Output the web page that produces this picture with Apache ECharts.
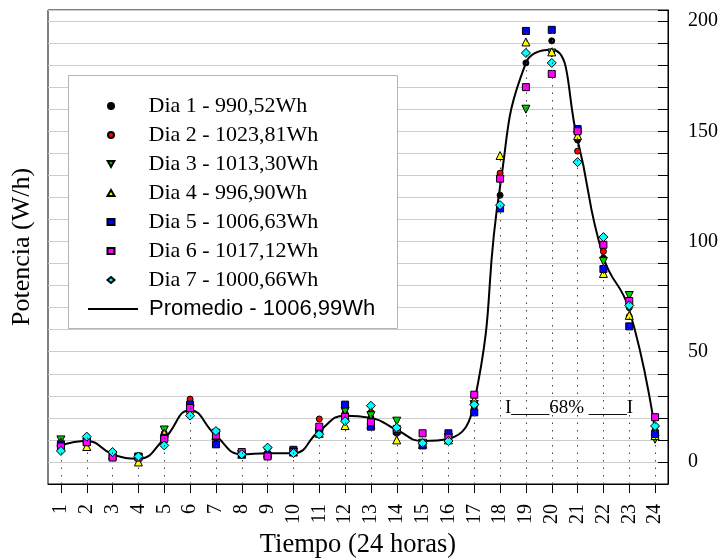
<!DOCTYPE html>
<html><head><meta charset="utf-8">
<script src="https://cdn.jsdelivr.net/npm/echarts@6/dist/echarts.min.js"></script>
<style>html,body{margin:0;padding:0;background:#fff}#c{width:724px;height:560px}</style>
</head><body><div id="c"></div>
<script>
const hours = ['1','2','3','4','5','6','7','8','9','10','11','12','13','14','15','16','17','18','19','20','21','22','23','24'];
const dia1 = [8, 9, 3, 1.5, 12, 25, 11, 4, 4, 5, 14, 22, 20, 14, 8, 11, 25, 121, 181, 191, 146, 92.5, 66, 13];
const dia2 = [8, 9, 3, 2, 13, 28.5, 12, 4, 4, 5, 19.5, 24, 22.5, 13, 8, 11, 27, 131, 170, 186, 141, 95.5, 70, 14.5];
const dia3 = [10, 9, 3, 2, 14.5, 24, 13, 3.5, 5, 4.5, 13, 23, 21, 18.5, 8.5, 11, 26, 128, 160, 185.5, 148, 91, 75.5, 10.3];
const dia4 = [9, 7, 3, 0, 13, 24, 12, 3.5, 4, 4.5, 13, 16.5, 17, 10, 8, 10, 28, 139, 190.5, 186, 148, 85.5, 66.5, 12];
const dia5 = [8, 9, 3, 2.5, 11, 26, 8, 3.5, 3, 5.5, 14, 26, 16, 14, 7.5, 13, 22.5, 115, 195.5, 196, 151, 87.5, 61.5, 12.7];
const dia6 = [7, 9, 2, 2, 10.5, 24.5, 12, 4.5, 2.5, 4.5, 16, 20.5, 18, 15, 13, 11, 30.5, 128.5, 170, 176, 150, 98.5, 73, 20.3];
const dia7 = [5, 11.5, 4.5, 2.5, 7.5, 21, 14, 3.5, 6.5, 4, 12.5, 18.5, 25.5, 15.5, 8.5, 9.5, 26, 116.5, 185.5, 181, 136, 102, 71, 16.3];
const promedio = [7.5, 9.5, 3.5, 1.5, 10.5, 23.5, 12, 3.5, 4, 4, 14, 21, 20, 14.5, 9.5, 10.5, 27, 125, 181, 187, 146, 93, 69, 14];
const dayNames = ['Dia 1 - 990,52Wh','Dia 2 - 1023,81Wh','Dia 3 - 1013,30Wh','Dia 4 - 996,90Wh','Dia 5 - 1006,63Wh','Dia 6 - 1017,12Wh','Dia 7 - 1000,66Wh'];
const promedioName = 'Promedio - 1006,99Wh';
const yTickLabels = [0, 50, 100, 150, 200];
const annotation = 'I____68% ____I';

const serif = '"Liberation Serif", "Times New Roman", serif';
const sans = '"Liberation Sans", Arial, sans-serif';
const dayData = [dia1, dia2, dia3, dia4, dia5, dia6, dia7];
const downTri = 'path://M0,0 L10,0 L5,9 Z';
const styles = [
  {symbol:'circle', size:6, color:'#000000', rot:0, icon:'circle'},
  {symbol:'circle', size:6, color:'#ff0000', rot:0, icon:'circle'},
  {symbol:'triangle', size:8, color:'#00cc00', rot:180, icon:downTri},
  {symbol:'triangle', size:8, color:'#ffff00', rot:0, icon:'triangle'},
  {symbol:'rect', size:7, color:'#0000ff', rot:0, icon:'rect'},
  {symbol:'rect', size:7, color:'#ff00ff', rot:0, icon:'rect'},
  {symbol:'diamond', size:9, color:'#00ffff', rot:0, icon:'diamond'}
];
const maxByHour = hours.map((h, i) => Math.max(...dayData.map(d => d[i])));

const series = [];
series.push({
  type:'scatter', name:'_guides', data:[], silent:true, z:1,
  markLine:{silent:true, symbol:['none','none'], label:{show:false}, animation:false,
    lineStyle:{type:[1.5,6], color:'#444', width:1},
    emphasis:{disabled:true},
    data: hours.map((h, i) => [{coord:[h, -10]}, {coord:[h, maxByHour[i]]}])}
});
series.push({
  type:'line', name:promedioName, data:promedio, smooth:true, symbol:'none', z:2,
  lineStyle:{color:'#000', width:2}, itemStyle:{color:'#000'}
});
dayData.forEach((d, k) => {
  const s = styles[k];
  series.push({
    type:'scatter', name:dayNames[k], data:d, symbol:s.symbol, symbolSize:s.size, symbolRotate:s.rot, z:3,
    itemStyle:{color:s.color, borderColor:'#000', borderWidth:1, opacity:1}
  });
});

const rowH = 29;
const chart = echarts.init(document.getElementById('c'), null, {renderer:'canvas'});
chart.setOption({
  animation:false,
  backgroundColor:'#fff',
  grid:{left:48, right:56, top:10, bottom:76, containLabel:false, outerBoundsMode:'none',
    show:true, borderColor:'#000', borderWidth:1, backgroundColor:'transparent'},
  xAxis:{
    type:'category', data:hours, boundaryGap:true,
    axisLine:{show:true, onZero:false, lineStyle:{color:'#000', width:1}},
    axisTick:{show:true, alignWithLabel:true, length:9, lineStyle:{color:'#000', width:1}},
    axisLabel:{rotate:90, margin:20, interval:0, fontFamily:serif, fontSize:20, color:'#000'},
    splitLine:{show:false},
    name:'Tiempo (24 horas)', nameLocation:'middle', nameGap:48,
    nameTextStyle:{fontFamily:serif, fontSize:26.5, color:'#000'}
  },
  yAxis:[{
    type:'value', position:'right', min:-10, max:205, interval:10,
    axisLine:{show:true, lineStyle:{color:'#000', width:1}},
    axisTick:{show:true, inside:true, length:10, lineStyle:{color:'#000', width:1}},
    axisLabel:{margin:20, fontFamily:serif, fontSize:20, color:'#000',
      formatter: v => yTickLabels.indexOf(v) >= 0 ? String(v) : ''},
    splitLine:{show:true, lineStyle:{color:'#cccccc', width:1}}
  },{
    type:'value', position:'left', min:-10, max:205, interval:10,
    axisLine:{show:false}, axisTick:{show:false}, axisLabel:{show:false}, splitLine:{show:false},
    name:'Potencia (W/h)', nameLocation:'middle', nameGap:13, nameRotate:90,
    nameTextStyle:{fontFamily:serif, fontSize:26, color:'#000'}
  }],
  legend:[{
    orient:'vertical', left:106.5, top:95, padding:0, itemGap:7,
    itemWidth:7, itemHeight:6, z:10,
    selectedMode:false,
    textStyle:{fontFamily:serif, fontSize:22, color:'#000', lineHeight:22, padding:[0,0,0,29]},
    data: dayNames.map((n, k) => ({name:n, icon:styles[k].icon}))
  },{
    orient:'vertical', left:87, top:95 + 7 * rowH, padding:0,
    itemWidth:50, itemHeight:7, z:10,
    selectedMode:false,
    textStyle:{fontFamily:sans, fontSize:22, color:'#000', lineHeight:22, padding:[0,0,0,6]},
    data:[{name:promedioName, itemStyle:{color:'rgba(0,0,0,0)', borderWidth:0, opacity:0}}]
  }],
  graphic:[{
    type:'rect', z:5, silent:true,
    shape:{x:68.5, y:75.5, width:329, height:253},
    style:{fill:'#fff', stroke:'#b5b5b5', lineWidth:1}
  },{
    type:'text', x:569, y:408, z:100,
    style:{text:annotation, fontSize:19, fontFamily:serif, fill:'#000', align:'center', verticalAlign:'middle'}
  }],
  series: series
});
</script>
</body></html>
